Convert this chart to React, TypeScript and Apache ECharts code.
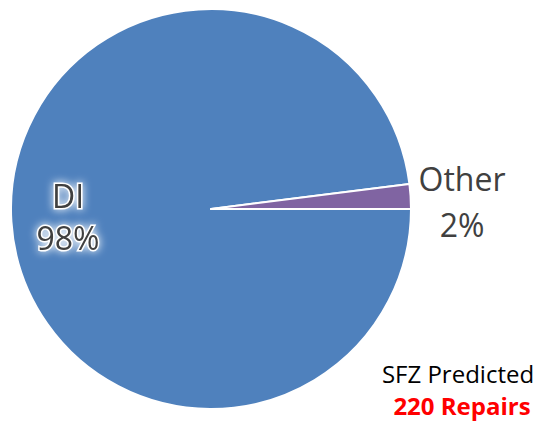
import React, { useEffect, useRef } from "react";
import * as echarts from "echarts";

const categories = ["DI", "Other"];
const shares = [98, 2];
const colors = ["#4F81BD", "#8064A2"];
const noteLine1 = "SFZ Predicted";
const noteLine2 = "220 Repairs";

export default function App() {
  const ref = useRef<HTMLDivElement>(null);
  useEffect(() => {
    if (!ref.current) return;
    const chart = echarts.init(ref.current, null, { renderer: "svg" });
    const font = "'Open Sans', 'Liberation Sans', sans-serif";
    chart.setOption({
      animation: false,
      backgroundColor: "#ffffff",
      series: [
        {
          type: "pie",
          center: [211, 209],
          radius: 200,
          startAngle: 0,
          clockwise: true,
          avoidLabelOverlap: false,
          itemStyle: { borderColor: "#ffffff", borderWidth: 2 },
          labelLine: { show: false },
          label: {
            show: true,
            formatter: "{b}\n{c}%",
            fontFamily: font,
            fontSize: 32,
            color: "#404040",
            align: "center",
          },
          labelLayout: (p: any) =>
            p.dataIndex === 0
              ? { x: 68, y: 216, align: "center", verticalAlign: "middle" }
              : { x: 462, y: 201, align: "center", verticalAlign: "middle" },
          data: categories.map((name, i) => ({
            name,
            value: shares[i],
            itemStyle: { color: colors[i] },
            label:
              i === 0
                ? {
                    lineHeight: 42,
                    textBorderColor: "#ffffff",
                    textBorderWidth: 3,
                    textShadowColor: "#ffffff",
                    textShadowBlur: 8,
                  }
                : { lineHeight: 46 },
          })),
        },
      ],
      graphic: [
        {
          type: "text",
          x: 458,
          y: 373,
          style: {
            text: noteLine1,
            font: `24px ${font}`,
            fill: "#000000",
            textAlign: "center",
            textVerticalAlign: "middle",
          },
        },
        {
          type: "text",
          x: 462,
          y: 405,
          style: {
            text: noteLine2,
            font: `bold 24px ${font}`,
            fill: "#FF0000",
            textAlign: "center",
            textVerticalAlign: "middle",
          },
        },
      ],
    });
    return () => chart.dispose();
  }, []);
  return (
    <div
      ref={ref}
      style={{ position: "fixed", left: 0, top: 0, width: 551, height: 424 }}
    />
  );
}
